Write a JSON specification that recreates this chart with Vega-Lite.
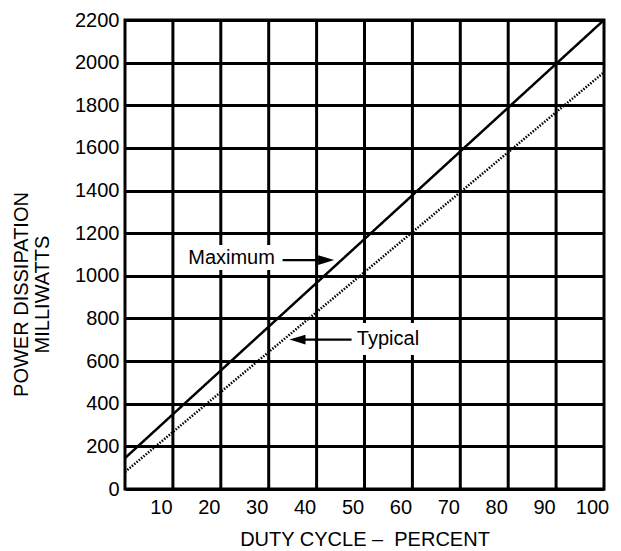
{
  "$schema": "https://vega.github.io/schema/vega-lite/v6.json",
  "autosize": {"type": "none"},
  "width": 479,
  "height": 469,
  "padding": {"left": 125, "top": 20, "right": 17, "bottom": 62},
  "background": "white",
  "config": {
    "view": {"stroke": "black", "strokeWidth": 3},
    "font": "Liberation Sans",
    "axis": {
      "labelFont": "Liberation Sans",
      "labelFontSize": 20,
      "labelColor": "black",
      "titleFont": "Liberation Sans",
      "titleFontSize": 20,
      "titleFontWeight": "normal",
      "titleColor": "black",
      "domain": false,
      "ticks": false
    }
  },
  "datasets": {
    "grid": [{"x": 12.5}, {"x": 22.5}, {"x": 32.5}, {"x": 42.5}, {"x": 52.5}, {"x": 62.5}, {"x": 72.5}, {"x": 82.5}, {"x": 92.5}],
    "boxes": [
      {"x": 14.6, "x2": 35.5, "p": 1027, "p2": 1145},
      {"x": 49.9, "x2": 65.3, "p": 628, "p2": 779}
    ],
    "lines": [
      {"x": 2.5, "p": 145, "s": "Maximum"},
      {"x": 102.5, "p": 2200, "s": "Maximum"},
      {"x": 2.5, "p": 80, "s": "Typical"},
      {"x": 102.5, "p": 1955, "s": "Typical"}
    ],
    "shafts": [
      {"x": 35.4, "x2": 44.5, "p": 1074},
      {"x": 38.5, "x2": 49.8, "p": 701}
    ],
    "heads": [
      {"x": 44.5, "p": 1074, "dir": "right"},
      {"x": 38.5, "p": 701, "dir": "left"}
    ],
    "labels": [
      {"x": 15.7, "p": 1055, "t": "Maximum"},
      {"x": 50.9, "p": 675, "t": "Typical"}
    ]
  },
  "encoding": {
    "x": {
      "field": "x", "type": "quantitative",
      "scale": {"domain": [2.5, 102.5], "nice": false, "zero": false},
      "axis": {"values": [10, 20, 30, 40, 50, 60, 70, 80, 90, 100], "grid": false, "labelPadding": 8, "title": "DUTY CYCLE –\u00a0 PERCENT", "titlePadding": 12}
    },
    "y": {
      "field": "p", "type": "quantitative",
      "scale": {"domain": [0, 2200], "nice": false, "zero": true},
      "axis": {
        "values": [0, 200, 400, 600, 800, 1000, 1200, 1400, 1600, 1800, 2000, 2200],
        "format": "d",
        "grid": true, "gridColor": "black", "gridWidth": 3, "gridOpacity": 1,
        "labelPadding": 6,
        "title": ["POWER DISSIPATION", "MILLIWATTS"],
        "titlePadding": 22,
        "titleY": 274,
        "titleLineHeight": 21
      }
    }
  },
  "layer": [
    {
      "data": {"name": "grid"},
      "mark": {"type": "rule", "color": "black", "strokeWidth": 3},
      "encoding": {
        "y": null
      }
    },
    {
      "data": {"name": "boxes"},
      "mark": {"type": "rect", "color": "white"},
      "encoding": {
        "x2": {"field": "x2"},
        "y2": {"field": "p2"}
      }
    },
    {
      "data": {"name": "lines"},
      "mark": {"type": "line", "color": "black", "strokeWidth": 2.5, "clip": true},
      "encoding": {
        "detail": {"field": "s"},
        "strokeDash": {
          "field": "s", "type": "nominal",
          "scale": {"domain": ["Maximum", "Typical"], "range": [[1, 0], [1.5, 1.5]]},
          "legend": null
        }
      }
    },
    {
      "data": {"name": "shafts"},
      "mark": {"type": "rule", "color": "black", "strokeWidth": 2.2},
      "encoding": {
        "x2": {"field": "x2"}
      }
    },
    {
      "data": {"name": "heads"},
      "mark": {"type": "point", "filled": true, "color": "black", "opacity": 1, "size": 260},
      "encoding": {
        "shape": {
          "field": "dir", "type": "nominal",
          "scale": {"domain": ["right", "left"], "range": ["M 1 0 L -1 -0.6 L -1 0.6 Z", "M -1 0 L 1 -0.6 L 1 0.6 Z"]},
          "legend": null
        }
      }
    },
    {
      "data": {"name": "labels"},
      "mark": {"type": "text", "align": "left", "baseline": "alphabetic", "fontSize": 20, "font": "Liberation Sans", "color": "black"},
      "encoding": {
        "text": {"field": "t"}
      }
    }
  ]
}
